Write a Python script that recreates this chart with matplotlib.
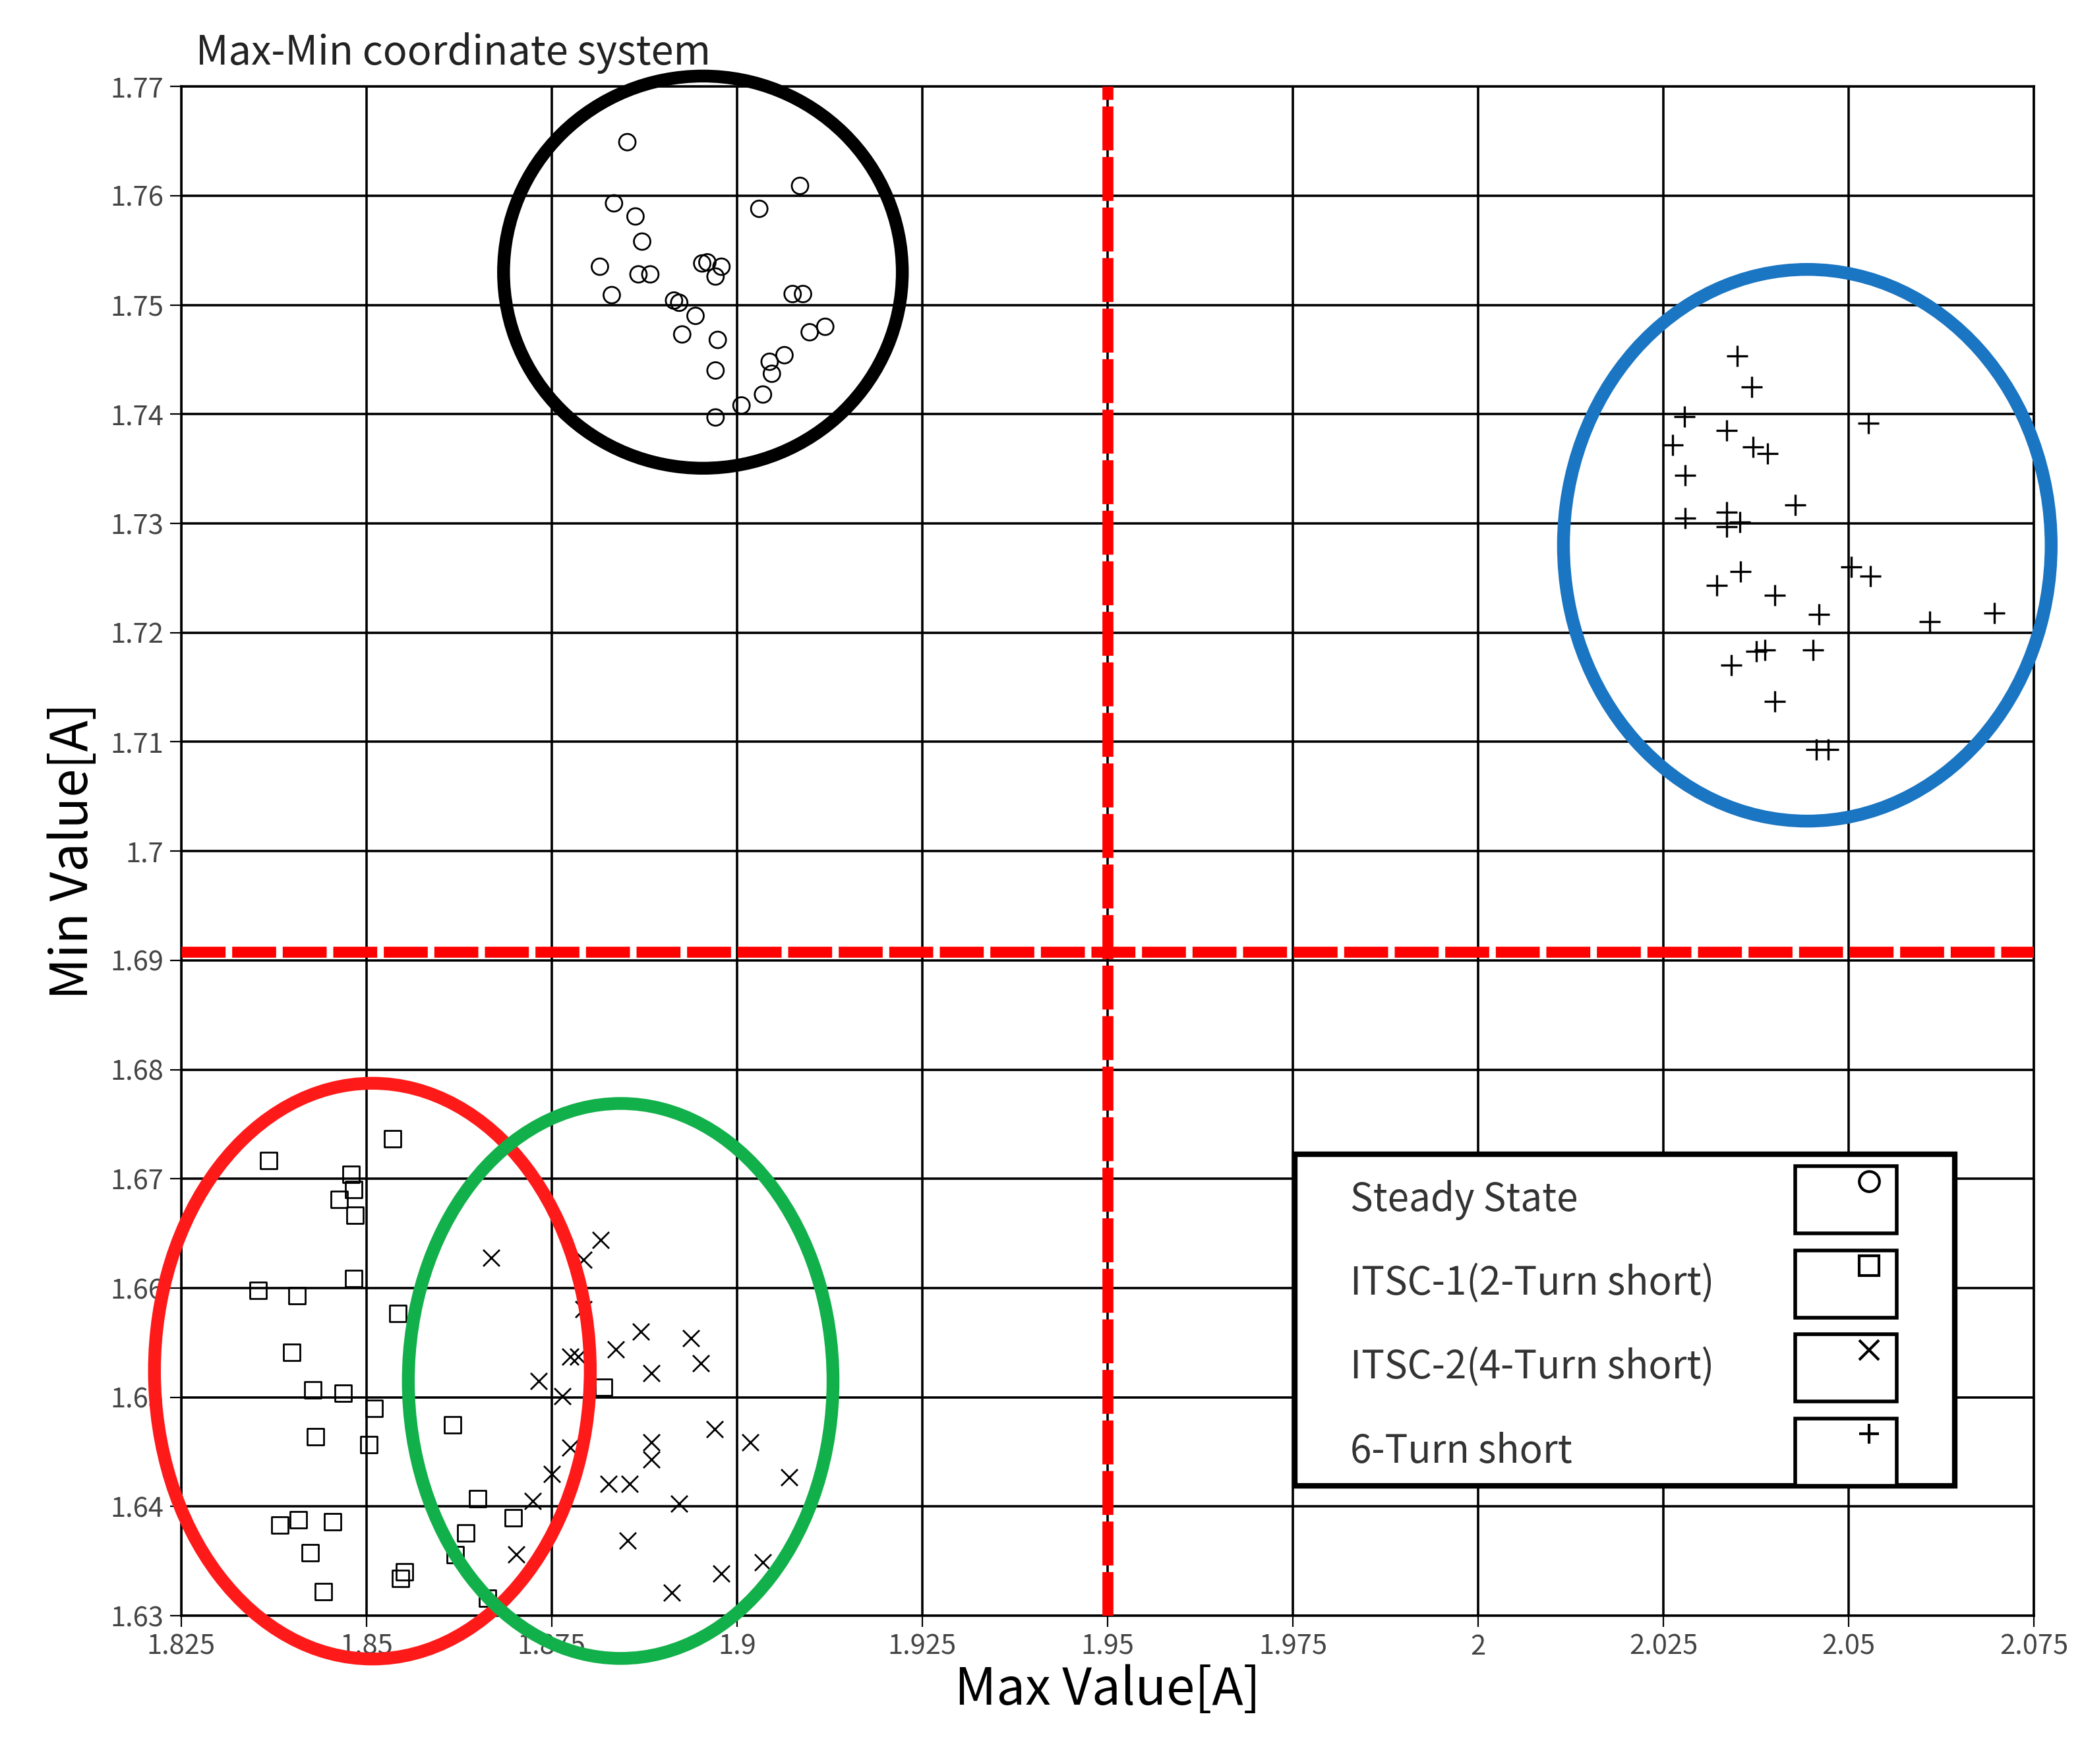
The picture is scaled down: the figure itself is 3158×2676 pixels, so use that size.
import matplotlib.pyplot as plt
from matplotlib.patches import Ellipse, Rectangle

plt.rcParams['font.family'] = ['Noto Sans CJK KR', 'DejaVu Sans']

steady_x = [1.8852, 1.8834, 1.8863, 1.8872, 1.8815, 1.8831, 1.8867, 1.8883, 1.8915, 1.8922,
            1.8926, 1.8944, 1.8953, 1.8960, 1.8979, 1.8971, 1.8974, 1.8971, 1.8971, 1.9006,
            1.9035, 1.9047, 1.9044, 1.9064, 1.9030, 1.9085, 1.9075, 1.9089, 1.9098, 1.9119]
steady_y = [1.7649, 1.7593, 1.7581, 1.7558, 1.7535, 1.7509, 1.7528, 1.7528, 1.7504, 1.7502,
            1.7473, 1.7490, 1.7538, 1.7539, 1.7535, 1.7526, 1.7468, 1.7440, 1.7397, 1.7408,
            1.7418, 1.7437, 1.7448, 1.7454, 1.7588, 1.7609, 1.7510, 1.7510, 1.7475, 1.7480]

itsc1_x = [1.8368, 1.8535, 1.8479, 1.8463, 1.8485, 1.8483, 1.8354, 1.8406, 1.8483, 1.8542,
           1.8399, 1.8428, 1.8469, 1.8510, 1.8503, 1.8431, 1.8616, 1.8650, 1.8634, 1.8620,
           1.8698, 1.8663, 1.8551, 1.8546, 1.8383, 1.8408, 1.8454, 1.8424, 1.8442, 1.8820]
itsc1_y = [1.6717, 1.6737, 1.6704, 1.6681, 1.6667, 1.6690, 1.6598, 1.6593, 1.6609, 1.6577,
           1.6541, 1.6507, 1.6504, 1.6490, 1.6457, 1.6464, 1.6475, 1.6407, 1.6376, 1.6356,
           1.6390, 1.6316, 1.6340, 1.6334, 1.6383, 1.6388, 1.6386, 1.6358, 1.6322, 1.6509]

itsc2_x = [1.8668, 1.8816, 1.8793, 1.8793, 1.8870, 1.8938, 1.8836, 1.8775, 1.8786, 1.8951,
           1.8732, 1.8764, 1.8884, 1.8775, 1.8884, 1.8884, 1.8970, 1.9018, 1.9070, 1.8750,
           1.8724, 1.8827, 1.8855, 1.8922, 1.8852, 1.8702, 1.8912, 1.8979, 1.9035]
itsc2_y = [1.6628, 1.6644, 1.6626, 1.6581, 1.6560, 1.6554, 1.6544, 1.6537, 1.6537, 1.6531,
           1.6515, 1.6501, 1.6522, 1.6454, 1.6459, 1.6443, 1.6471, 1.6459, 1.6427, 1.6430,
           1.6405, 1.6421, 1.6421, 1.6403, 1.6369, 1.6356, 1.6321, 1.6339, 1.6349]

six_x = [2.0349, 2.0369, 2.0278, 2.0262, 2.0335, 2.0371, 2.0390, 2.0526, 2.0279, 2.0279,
         2.0335, 2.0335, 2.0353, 2.0428, 2.0322, 2.0354, 2.0400, 2.0503, 2.0529, 2.0460,
         2.0609, 2.0696, 2.0341, 2.0375, 2.0387, 2.0452, 2.0400, 2.0456, 2.0472]
six_y = [1.7453, 1.7425, 1.7398, 1.7372, 1.7385, 1.7370, 1.7364, 1.7392, 1.7344, 1.7305,
         1.7310, 1.7297, 1.7301, 1.7317, 1.7243, 1.7256, 1.7234, 1.7260, 1.7252, 1.7217,
         1.7210, 1.7218, 1.7170, 1.7183, 1.7184, 1.7184, 1.7137, 1.7093, 1.7093]

x_ticks = [1.825, 1.85, 1.875, 1.9, 1.925, 1.95, 1.975, 2, 2.025, 2.05, 2.075]
y_ticks = [1.63, 1.64, 1.65, 1.66, 1.67, 1.68, 1.69, 1.7, 1.71, 1.72, 1.73, 1.74, 1.75, 1.76, 1.77]

# clusters: center x, center y, width, height, colour
clusters = [(1.8954, 1.7530, 0.0538, 0.0359, 'black'),
            (2.0444, 1.7280, 0.0658, 0.0505, '#1a75c2'),
            (1.8508, 1.6524, 0.0588, 0.0527, '#ff1a1a'),
            (1.8843, 1.6515, 0.0573, 0.0508, '#12b04a')]

legend_names = ['Steady State', 'ITSC-1(2-Turn short)', 'ITSC-2(4-Turn short)', '6-Turn short']
legend_markers = ['o', 's', 'x', '+']

fig = plt.figure(figsize=(15.79, 13.38), dpi=200)
ax = fig.add_axes([0.087, 0.084, 0.89, 0.867])
ax.set_xlim(1.825, 2.075)
ax.set_ylim(1.63, 1.77)
ax.set_xticks(x_ticks)
ax.set_xticklabels([f'{v:g}' for v in x_ticks])
ax.set_yticks(y_ticks)
ax.set_yticklabels([f'{v:g}' for v in y_ticks])
ax.tick_params(labelsize=15, labelcolor='#444444', direction='out', length=6)
ax.grid(True, color='black', lw=1.3)
ax.set_axisbelow(True)
for s in ax.spines.values():
    s.set_linewidth(1.3)

ms = 9
ax.scatter(steady_x, steady_y, marker='o', s=ms**2, facecolors='none', edgecolors='black', lw=1, zorder=3)
ax.scatter(itsc1_x, itsc1_y, marker='s', s=ms**2, facecolors='none', edgecolors='black', lw=1, zorder=3)
ax.scatter(itsc2_x, itsc2_y, marker='x', s=ms**2, color='black', lw=1, zorder=3)
ax.scatter(six_x, six_y, marker='+', s=(ms * 1.3)**2, color='black', lw=1.2, zorder=3)

ax.axvline(1.95, color='red', lw=6, ls=(0, (4, 0.6)), zorder=4)
ax.axhline(1.6908, color='red', lw=6, ls=(0, (4, 0.6)), zorder=4)

for cx, cy, w, h, c in clusters:
    ax.add_patch(Ellipse((cx, cy), w, h, fill=False, ec=c, lw=7, clip_on=False, zorder=5))

# legend box drawn by hand, like the original control
lx0, ly0, lw_, lh = 0.601, 0.085, 0.356, 0.217
ax.add_patch(Rectangle((lx0, ly0), lw_, lh, transform=ax.transAxes, fc='white', ec='black', lw=3, zorder=6))
for i, (name, m) in enumerate(zip(legend_names, legend_markers)):
    yc = ly0 + lh - 0.03 - i * 0.055
    ax.text(lx0 + 0.03, yc, name, transform=ax.transAxes, fontsize=21, color='#333333', va='center', zorder=7)
    ax.add_patch(Rectangle((lx0 + 0.27, yc - 0.022), 0.055, 0.044, transform=ax.transAxes,
                           fc='white', ec='black', lw=2, zorder=7))
    ax.plot([lx0 + 0.31], [yc + 0.012], marker=m, ms=11, mfc='none', mec='black', mew=1.5,
            transform=ax.transAxes, zorder=8)

ax.set_xlabel('Max Value[A]', fontsize=28, labelpad=2)
ax.set_ylabel('Min Value[A]', fontsize=28, labelpad=6)
fig.text(0.094, 0.97, 'Max-Min coordinate system', fontsize=22, color='#222222', va='center')

fig.savefig('out.png')
